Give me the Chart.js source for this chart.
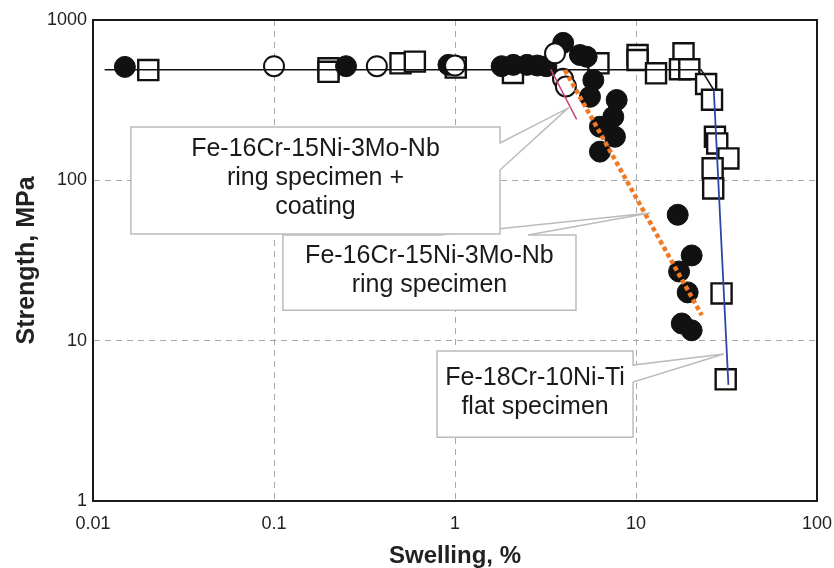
<!DOCTYPE html>
<html>
<head>
<meta charset="utf-8">
<script src="https://cdn.jsdelivr.net/npm/chart.js@4.4.1/dist/chart.umd.min.js"></script>
<style>
html, body { margin: 0; padding: 0; background: #fff; }
</style>
</head>
<body>
<canvas id="canvas" width="834" height="568"></canvas>
<script>
let fontName = "'Liberation Sans', Arial, sans-serif";
let colorGrid = "#a8a8a8";
let colorText = "#222222";
let colorMarker = "#111111";

let xTicks = [0.01, 0.1, 1, 10, 100];
let xTickLabels = ["0.01", "0.1", "1", "10", "100"];
let yTicks = [1, 10, 100, 1000];
let yTickLabels = ["1", "10", "100", "1000"];

// Fe-16Cr-15Ni-3Mo-Nb ring specimen (filled circles)
let ringX = [0.015, 0.25, 0.92, 1.81, 2.1, 2.5, 2.85, 3.2, 3.96, 4.9, 5.34, 5.81, 5.57, 7.82, 7.49, 6.32, 7.65, 6.32, 17.0, 20.3, 17.3, 19.3, 17.9, 20.3];
let ringY = [510, 515, 525, 515, 525, 525, 520, 515, 720, 605, 590, 422, 332, 317, 249, 216, 187, 151, 61, 34, 27, 20, 12.8, 11.6];

// Fe-16Cr-15Ni-3Mo-Nb ring specimen + coating (open circles)
let coatX = [0.1, 0.37, 1.0, 3.57, 3.95, 4.1];
let coatY = [515, 515, 520, 620, 430, 385];

// Fe-18Cr-10Ni-Ti flat specimen (open squares)
let flatX = [0.0202, 0.2, 0.2, 0.5, 0.6, 1.01, 2.09, 6.2, 10.2, 10.2, 12.9, 18.3, 17.5, 19.7, 24.4, 26.3, 27.3, 28.1, 32.4, 26.5, 26.7, 29.7, 31.3];
let flatY = [487, 500, 475, 537, 550, 505, 467, 537, 605, 563, 465, 620, 493, 493, 399, 318, 187, 170, 137, 119, 89, 19.7, 5.74];

// trend lines
let trendAllX = [0.0116, 22.9, 26.9];
let trendAllY = [490, 490, 366];
let trendFlatX = [26.9, 32.4];
let trendFlatY = [366, 5.3];
let trendRingX = [4.05, 23.1];
let trendRingY = [487, 14.4];
let trendCoatX = [3.38, 4.7];
let trendCoatY = [492, 240];

let toPoints = (xs, ys) => xs.map((x, i) => ({x: x, y: ys[i]}));

// callout boxes, placed in data coordinates
let callouts = [
    {lines: ["Fe-16Cr-15Ni-3Mo-Nb", "ring specimen"], box: [0.112, 4.66, 45.6, 15.5], side: "top", base: [0.826, 2.53], tip: [11.95, 62.5]},
    {lines: ["Fe-16Cr-15Ni-3Mo-Nb", "ring specimen +", "coating"], box: [0.0162, 1.773, 215, 46.2], side: "right", base: [171, 116], tip: [4.21, 282]},
    {lines: ["Fe-18Cr-10Ni-Ti", "flat specimen"], box: [0.796, 9.63, 8.61, 2.5], side: "right", base: [7.04, 5.52], tip: [30.6, 8.25]}
];

let calloutPlugin = {
    id: "callouts",
    afterDatasetsDraw(chart) {
        let ctx = chart.ctx, sx = chart.scales.x, sy = chart.scales.y;
        callouts.forEach((c) => {
            let l = sx.getPixelForValue(c.box[0]), r = sx.getPixelForValue(c.box[1]);
            let t = sy.getPixelForValue(c.box[2]), b = sy.getPixelForValue(c.box[3]);
            let tx = sx.getPixelForValue(c.tip[0]), ty = sy.getPixelForValue(c.tip[1]);
            ctx.save();
            ctx.beginPath();
            ctx.moveTo(l, t);
            if (c.side === "top") {
                ctx.lineTo(sx.getPixelForValue(c.base[0]), t);
                ctx.lineTo(tx, ty);
                ctx.lineTo(sx.getPixelForValue(c.base[1]), t);
            }
            ctx.lineTo(r, t);
            if (c.side === "right") {
                ctx.lineTo(r, sy.getPixelForValue(c.base[0]));
                ctx.lineTo(tx, ty);
                ctx.lineTo(r, sy.getPixelForValue(c.base[1]));
            }
            ctx.lineTo(r, b);
            ctx.lineTo(l, b);
            ctx.closePath();
            ctx.fillStyle = "#ffffff";
            ctx.fill();
            ctx.strokeStyle = "#bcbcbc";
            ctx.lineWidth = 1.5;
            ctx.stroke();
            ctx.fillStyle = "#1a1a1a";
            ctx.font = "25px " + fontName;
            ctx.textAlign = "center";
            ctx.textBaseline = "middle";
            let cx = (l + r) / 2, cy = (t + b) / 2 - 2, lh = 29;
            c.lines.forEach((s, i) => ctx.fillText(s, cx, cy + (i - (c.lines.length - 1) / 2) * lh));
            ctx.restore();
        });
    }
};

let framePlugin = {
    id: "frame",
    beforeDatasetsDraw(chart) {
        let a = chart.chartArea, ctx = chart.ctx;
        ctx.save();
        ctx.strokeStyle = "#1a1a1a";
        ctx.lineWidth = 2;
        ctx.strokeRect(a.left, a.top, a.right - a.left, a.bottom - a.top);
        ctx.restore();
    }
};

Chart.defaults.font.family = fontName;
Chart.defaults.color = colorText;

new Chart(document.getElementById("canvas").getContext("2d"), {
    type: "scatter",
    data: {
        datasets: [
            {data: toPoints(trendCoatX, trendCoatY), showLine: true, pointRadius: 0, borderColor: "#c8407e", borderWidth: 1.5, order: 0},
            {data: toPoints(trendRingX, trendRingY), showLine: true, pointRadius: 0, borderColor: "#f07a25", borderWidth: 4.5, borderDash: [4.5, 3], order: 0},
            {data: toPoints(trendFlatX, trendFlatY), showLine: true, pointRadius: 0, borderColor: "#2b48a8", borderWidth: 1.8, order: 0},
            {data: toPoints(trendAllX, trendAllY), showLine: true, pointRadius: 0, borderColor: "#111111", borderWidth: 1.5, order: 0},
            {data: toPoints(coatX, coatY), pointStyle: "circle", pointRadius: 10, backgroundColor: "#ffffff", borderColor: colorMarker, borderWidth: 2, order: 1},
            {data: toPoints(ringX, ringY), pointStyle: "circle", pointRadius: 10.5, backgroundColor: colorMarker, borderColor: colorMarker, borderWidth: 1, order: 2},
            {data: toPoints(flatX, flatY), pointStyle: "rect", pointRadius: 14.2, backgroundColor: "#ffffff", borderColor: colorMarker, borderWidth: 2.4, order: 3}
        ]
    },
    options: {
        responsive: false,
        animation: false,
        devicePixelRatio: 1,
        layout: {
            padding: {top: 20, right: 17, left: 0, bottom: 0}
        },
        plugins: {
            legend: {display: false},
            tooltip: {enabled: false}
        },
        scales: {
            x: {
                type: "logarithmic",
                min: 0.01,
                max: 100,
                afterBuildTicks: (scale) => { scale.ticks = xTicks.map((v) => ({value: v})); },
                afterFit: (scale) => { scale.height = 67; scale.paddingLeft = 0; scale.paddingRight = 0; },
                grid: {color: colorGrid, lineWidth: 1, drawTicks: false},
                border: {display: true, color: "#1a1a1a", width: 2, dash: [6, 5]},
                ticks: {
                    autoSkip: false,
                    maxRotation: 0,
                    padding: 12,
                    font: {size: 18},
                    callback: (v, i) => xTickLabels[i]
                },
                title: {
                    display: true,
                    text: "Swelling, %",
                    font: {size: 24, weight: "bold", lineHeight: 1},
                    padding: {top: 0, bottom: 0}
                }
            },
            y: {
                type: "logarithmic",
                min: 1,
                max: 1000,
                afterBuildTicks: (scale) => { scale.ticks = yTicks.map((v) => ({value: v})); },
                afterFit: (scale) => { scale.width = 93; scale.paddingTop = 0; scale.paddingBottom = 0; },
                grid: {color: colorGrid, lineWidth: 1, drawTicks: false},
                border: {display: true, color: "#1a1a1a", width: 2, dash: [6, 5]},
                ticks: {
                    autoSkip: false,
                    padding: 6,
                    font: {size: 18},
                    callback: (v, i) => yTickLabels[i]
                },
                title: {
                    display: true,
                    text: "Strength, MPa",
                    font: {size: 25, weight: "bold", lineHeight: 1},
                    padding: {top: 15, bottom: 0}
                }
            }
        }
    },
    plugins: [framePlugin, calloutPlugin]
});
</script>
</body>
</html>
